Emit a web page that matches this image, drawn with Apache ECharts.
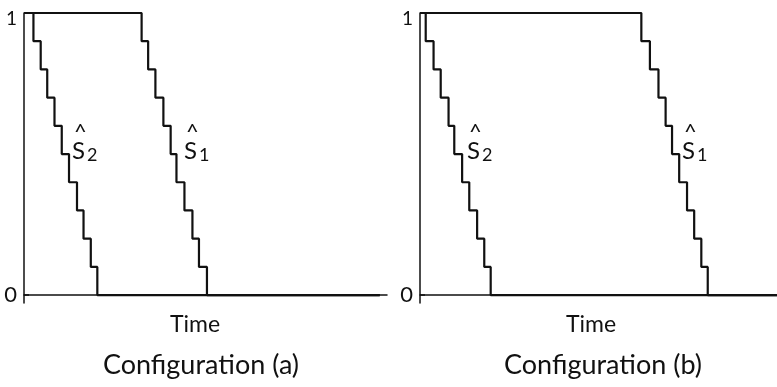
<!DOCTYPE html>
<html>
<head>
<meta charset="utf-8">
<script src="https://cdn.jsdelivr.net/npm/echarts@6/dist/echarts.min.js"></script>
<style>
  html, body { margin: 0; padding: 0; background: #fff; }
  #main { width: 777px; height: 387px; }
</style>
</head>
<body>
<div id="main"></div>
<script>
// survival levels after each drop (1 -> 0 in tenths)
var levels = [0.9, 0.8, 0.7, 0.6, 0.5, 0.4, 0.3, 0.2, 0.1, 0];

// drop times, configuration (a)
var aS2Times = [1.3, 2.3, 3.2, 4.2, 5.2, 6.2, 7.3, 8.2, 9.2, 10.1];
var aS1Times = [16.2, 17.1, 18.1, 19.2, 20.2, 21.0, 22.1, 23.2, 24.1, 25.2];
// drop times, configuration (b)
var bS2Times = [0.8, 1.9, 2.9, 4.0, 4.8, 5.9, 6.9, 8.0, 9.0, 9.9];
var bS1Times = [31.0, 32.2, 33.4, 34.4, 35.3, 36.3, 37.4, 38.4, 39.4, 40.3];

var yTicks = [0, 1];
var panelTitles = ['Configuration (a)', 'Configuration (b)'];
var xName = 'Time';

var FONT = 'Lato, "DejaVu Sans", sans-serif';
var INK = '#111';

// turn drop times into step points
function stepPoints(times, endT) {
    var pts = [[0, 1]];
    for (var i = 0; i < times.length; i++) {
        pts.push([times[i], levels[i]]);
    }
    pts.push([endT, 0]);
    return pts;
}

function xAx(idx) {
    return {
        type: 'value', gridIndex: idx, min: 0, max: 50,
        axisLine: { show: true, lineStyle: { color: INK, width: 1.5 } },
        axisTick: { show: false },
        axisLabel: { show: false },
        splitLine: { show: false }
    };
}

function yAx(idx) {
    return {
        type: 'value', gridIndex: idx, min: -0.028, max: 1,
        axisLine: { show: true, lineStyle: { color: INK, width: 1.5 } },
        axisTick: { show: true, inside: true, length: 5, customValues: yTicks,
                    lineStyle: { color: INK, width: 1.5 } },
        axisLabel: {
            customValues: yTicks, margin: 7, color: INK, fontFamily: FONT, fontSize: 21,
            formatter: function (v) { return v === 1 ? '{t|1}' : '{m|0}'; },
            rich: { t: { padding: [12, 0, 0, 0], fontSize: 19, fontFamily: FONT, color: INK },
                    m: { fontSize: 22, fontFamily: FONT, color: INK } }
        },
        splitLine: { show: false }
    };
}

function curve(idx, pts) {
    return {
        type: 'line', xAxisIndex: idx, yAxisIndex: idx, step: 'end',
        data: pts, symbol: 'none', silent: true,
        lineStyle: { color: INK, width: 2.2 }
    };
}

function hatLabel(x, y, sub) {
    return {
        type: 'text', left: x, top: y,
        style: {
            text: '{h|^}\n{s|S}{b|' + sub + '}',
            rich: {
                h: { fontSize: 22, fontFamily: FONT, fill: INK, lineHeight: 14, padding: [0, 0, 0, 2] },
                s: { fontSize: 24, fontFamily: FONT, fill: INK, lineHeight: 24 },
                b: { fontSize: 18, fontFamily: FONT, fill: INK, lineHeight: 24, padding: [8, 0, 0, 2] }
            }
        }
    };
}

var myChart = echarts.init(document.getElementById('main'));

var option = {
    backgroundColor: '#fff',
    animation: false,
    grid: [
        { left: 24, top: 13, width: 363, height: 290 },
        { left: 420, top: 13, width: 357, height: 290 }
    ],
    xAxis: [xAx(0), xAx(1)],
    yAxis: [yAx(0), yAx(1)],
    title: [
        { text: xName, left: 190, top: 308, textAlign: 'center',
          textStyle: { fontSize: 23, fontWeight: 'normal', fontFamily: FONT, color: INK } },
        { text: xName, left: 586, top: 308, textAlign: 'center',
          textStyle: { fontSize: 23, fontWeight: 'normal', fontFamily: FONT, color: INK } },
        { text: panelTitles[0], left: 196, top: 347, textAlign: 'center',
          textStyle: { fontSize: 27, fontWeight: 'normal', fontFamily: FONT, color: INK } },
        { text: panelTitles[1], left: 598, top: 347, textAlign: 'center',
          textStyle: { fontSize: 27, fontWeight: 'normal', fontFamily: FONT, color: INK } }
    ],
    graphic: [
        hatLabel(72, 121, 2),
        hatLabel(184, 121, 1),
        hatLabel(467, 121, 2),
        hatLabel(682, 121, 1)
    ],
    series: [
        curve(0, stepPoints(aS2Times, 49)),
        curve(0, stepPoints(aS1Times, 49)),
        curve(1, stepPoints(bS2Times, 50)),
        curve(1, stepPoints(bS1Times, 50))
    ]
};

myChart.setOption(option);
</script>
</body>
</html>
